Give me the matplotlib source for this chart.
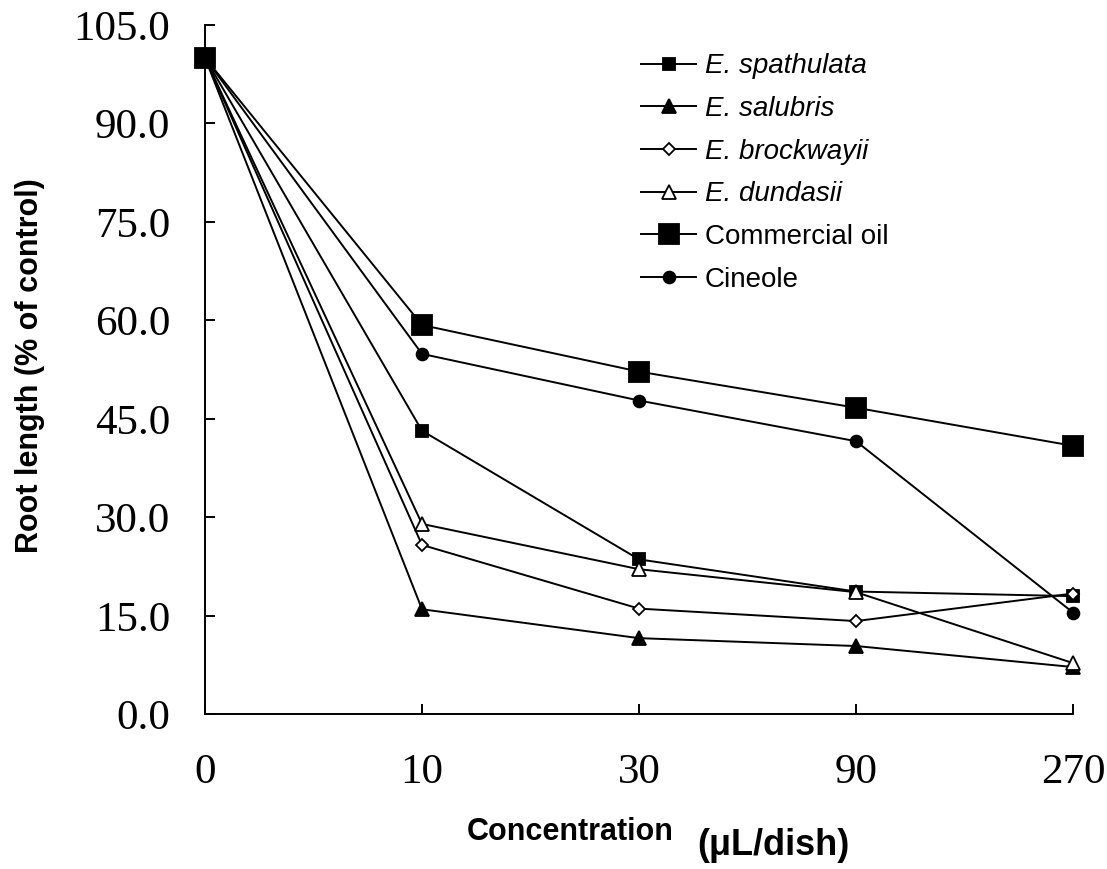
import matplotlib
matplotlib.use("Agg")
import matplotlib.pyplot as plt

# ── data (root length, % of control) ─────────────────────────────────────────
conc_labels = ["0", "10", "30", "90", "270"]

spathulata = [100.0, 43.2, 23.6, 18.7, 18.0]
salubris   = [100.0, 16.0, 11.6, 10.4, 7.2]
brockwayii = [100.0, 25.8, 16.1, 14.2, 18.4]
dundasii   = [100.0, 29.0, 22.1, 18.6, 7.8]
commercial = [100.0, 59.3, 52.2, 46.7, 40.9]
cineole    = [100.0, 54.9, 47.8, 41.6, 15.5]

y_ticks = [0, 15, 30, 45, 60, 75, 90, 105]

SERIES = [
    ("E. spathulata",  spathulata, dict(marker="s", ms=9,   mfc="black")),
    ("E. salubris",    salubris,   dict(marker="^", ms=9.5, mfc="black")),
    ("E. brockwayii",  brockwayii, dict(marker="D", ms=6.5, mfc="white")),
    ("E. dundasii",    dundasii,   dict(marker="^", ms=9.5, mfc="white")),
    ("Commercial oil", commercial, dict(marker="s", ms=14,  mfc="black")),
    ("Cineole",        cineole,    dict(marker="o", ms=8.5, mfc="black")),
]

SERIF = "Liberation Serif"
SANS = "Liberation Sans"

fig = plt.figure(figsize=(11.07, 8.69), dpi=100)
ax = fig.add_axes([205 / 1107, 1 - 714.3 / 869, 868 / 1107, 689.3 / 869])

x = list(range(len(conc_labels)))
for name, vals, style in SERIES:
    ax.plot(x, vals, color="black", lw=1.4, mec="black", mew=1.3,
            label=name, clip_on=False, **style)

ax.set_xlim(0, 4)
ax.set_ylim(0, 105)
ax.set_xticks(x)
ax.set_xticklabels(conc_labels)
ax.set_yticks(y_ticks)
ax.set_yticklabels([f"{v:.1f}" for v in y_ticks])

for s in ["top", "right"]:
    ax.spines[s].set_visible(False)
for s in ["left", "bottom"]:
    ax.spines[s].set_linewidth(1.4)

ax.tick_params(axis="both", direction="in", length=7, width=1.4)
ax.tick_params(axis="y", pad=25)
ax.tick_params(axis="x", pad=28)
for lab in ax.get_xticklabels() + ax.get_yticklabels():
    lab.set_fontfamily(SERIF)
    lab.set_fontsize(31)

# legend
leg = ax.legend(loc="upper left", bbox_to_anchor=(0.502, 0.959), frameon=False,
                prop={"family": SANS, "size": 20}, handlelength=2.0,
                handletextpad=0.3, labelspacing=0.6, borderpad=0,
                borderaxespad=0)
for t in leg.get_texts()[:4]:
    t.set_style("italic")

# axis titles
fig.text(30 / 1107, 1 - 366 / 869, "Root length (% of control)", rotation=90,
         ha="center", va="center", family=SANS, fontsize=22, fontweight="bold")
fig.text(467 / 1107, 1 - 840 / 869, "Concentration", ha="left", va="baseline",
         family=SANS, fontsize=22, fontweight="bold")
fig.text(697 / 1107, 1 - 855 / 869, "(μL/dish)", ha="left", va="baseline",
         family=SANS, fontsize=26, fontweight="bold")

fig.savefig("out.png", dpi=100)
